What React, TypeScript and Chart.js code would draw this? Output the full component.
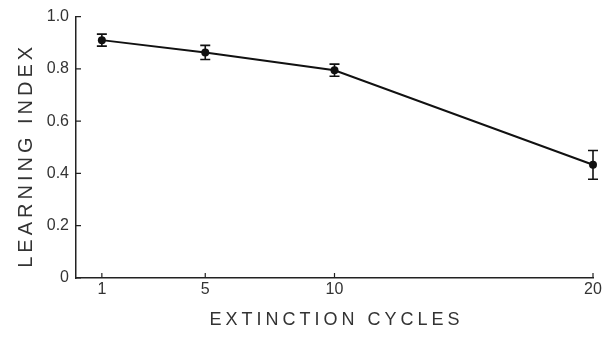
import { useEffect, useRef } from "react";
import { Chart, registerables } from "chart.js";

Chart.register(...registerables);

const cycles = [1, 5, 10, 20];
const learningIndex = [0.91, 0.863, 0.795, 0.433];
const errorHalf = [0.023, 0.027, 0.023, 0.055];
const xTicks = [1, 5, 10, 20];
const yTicks = [0, 0.2, 0.4, 0.6, 0.8, 1.0];
const yTickLabels = ["0", "0.2", "0.4", "0.6", "0.8", "1.0"];
const xTitle = "EXTINCTION CYCLES";
const yTitle = "LEARNING INDEX";

const FONT = "'Liberation Sans', Arial, Helvetica, sans-serif";
const INK = "#111";
const TEXT = "#333";

const decorPlugin = {
  id: "decor",
  afterDatasetsDraw(chart: any) {
    const { ctx, scales } = chart;
    const xs = scales.x;
    const ys = scales.y;
    ctx.save();
    ctx.strokeStyle = INK;
    ctx.lineWidth = 1.6;
    cycles.forEach((c, i) => {
      const x = xs.getPixelForValue(c);
      const yt = ys.getPixelForValue(learningIndex[i] + errorHalf[i]);
      const yb = ys.getPixelForValue(learningIndex[i] - errorHalf[i]);
      ctx.beginPath();
      ctx.moveTo(x, yt);
      ctx.lineTo(x, yb);
      ctx.moveTo(x - 5, yt);
      ctx.lineTo(x + 5, yt);
      ctx.moveTo(x - 5, yb);
      ctx.lineTo(x + 5, yb);
      ctx.stroke();
    });
    ctx.restore();
  },
  afterDraw(chart: any) {
    const { ctx, scales, chartArea } = chart;
    const xs = scales.x;
    const ys = scales.y;
    ctx.save();
    ctx.strokeStyle = "#222";
    ctx.lineWidth = 1.2;
    ctx.beginPath();
    yTicks.forEach((v) => {
      const y = ys.getPixelForValue(v);
      ctx.moveTo(chartArea.left, y);
      ctx.lineTo(chartArea.left + 5, y);
    });
    xTicks.forEach((v) => {
      const x = xs.getPixelForValue(v);
      ctx.moveTo(x, chartArea.bottom);
      ctx.lineTo(x, chartArea.bottom - 5);
    });
    ctx.stroke();

    ctx.fillStyle = TEXT;
    ctx.textAlign = "center";
    ctx.textBaseline = "middle";
    (ctx as any).letterSpacing = "4px";
    ctx.font = `18px ${FONT}`;
    ctx.fillText(xTitle, (chartArea.left + chartArea.right) / 2 + 2, chartArea.bottom + 42);

    ctx.font = `20px ${FONT}`;
    ctx.translate(26, (chartArea.top + chartArea.bottom) / 2 + 10);
    ctx.rotate(-Math.PI / 2);
    ctx.fillText(yTitle, 2, 0);
    ctx.restore();
  },
};

export default function App() {
  const ref = useRef<HTMLCanvasElement | null>(null);

  useEffect(() => {
    document.body.style.margin = "0";
    const canvas = ref.current;
    if (!canvas) return;
    const chart = new Chart(canvas, {
      type: "line",
      data: {
        datasets: [
          {
            data: cycles.map((c, i) => ({ x: c, y: learningIndex[i] })),
            borderColor: INK,
            backgroundColor: INK,
            borderWidth: 2,
            pointRadius: 4,
            pointBackgroundColor: INK,
            pointBorderColor: INK,
            pointBorderWidth: 0,
            tension: 0,
            clip: false as any,
          },
        ],
      },
      options: {
        responsive: false,
        animation: false,
        devicePixelRatio: 1,
        layout: { padding: { top: 15, right: 18, left: 0, bottom: 0 } },
        plugins: {
          legend: { display: false },
          tooltip: { enabled: false },
        },
        scales: {
          x: {
            type: "linear",
            min: 0,
            max: 20,
            afterBuildTicks: (scale: any) => {
              scale.ticks = xTicks.map((v) => ({ value: v }));
            },
            afterFit: (scale: any) => {
              scale.height = 60;
            },
            grid: { display: false, drawTicks: false },
            border: { display: true, color: "#222", width: 1.5 },
            ticks: {
              padding: 2,
              color: TEXT,
              font: { family: FONT, size: 16 },
              maxRotation: 0,
              autoSkip: false,
              callback: (v: any) => String(v),
            },
          },
          y: {
            type: "linear",
            min: 0,
            max: 1,
            afterBuildTicks: (scale: any) => {
              scale.ticks = yTicks.map((v) => ({ value: v }));
            },
            afterFit: (scale: any) => {
              scale.width = 76;
            },
            grid: { display: false, drawTicks: false },
            border: { display: true, color: "#222", width: 1.5 },
            ticks: {
              padding: 7,
              color: TEXT,
              font: { family: FONT, size: 16 },
              autoSkip: false,
              callback: (_v: any, i: number) => yTickLabels[i],
            },
          },
        },
      },
      plugins: [decorPlugin],
    });
    return () => chart.destroy();
  }, []);

  return (
    <div style={{ width: 611, height: 338 }}>
      <canvas ref={ref} width={611} height={338} style={{ display: "block" }} />
    </div>
  );
}
